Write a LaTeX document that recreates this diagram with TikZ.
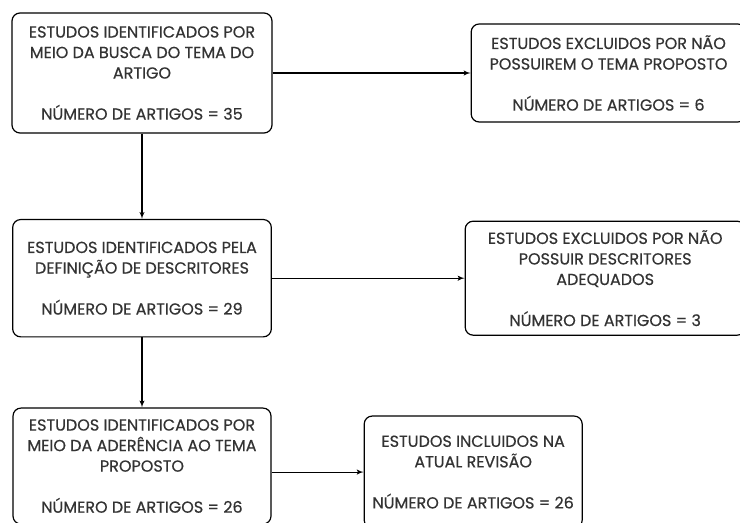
\documentclass[tikz,border=0pt]{standalone}
\usepackage{fontspec}
\newfontfamily\caixafont{Poppins}[BoldFont=Poppins, BoldFeatures={FakeBold=0.5}]
\usetikzlibrary{shapes.geometric,arrows, positioning}
\tikzstyle{caixa} = [rectangle, draw, rounded corners=6pt, line width=0.9pt,
                  text=black!80, font=\caixafont\bfseries\fontsize{12pt}{15.4pt}\selectfont, align=center]
\tikzstyle{seta} = [draw, line width=0.8pt, -latex']

\begin{document}
\begin{tikzpicture}
        [x=0.75pt, y=-0.75pt]
        \useasboundingbox (0,0) rectangle (740,523);
        \node [caixa, minimum width=195pt, minimum height=90pt] (busca) at (142,73)
            {ESTUDOS IDENTIFICADOS POR\\MEIO DA BUSCA DO TEMA DO\\ARTIGO\\[15.4pt]NÚMERO DE ARTIGOS = 35};
        \node [caixa, minimum width=206pt, minimum height=73.5pt, right= 148.5pt of busca] (semtema)
            {ESTUDOS EXCLUIDOS POR NÃO\\POSSUIREM O TEMA PROPOSTO\\[15.4pt]NÚMERO DE ARTIGOS = 6};
        \node [caixa, minimum width=194pt, minimum height=88pt, below= 64pt of busca] (descritores)
            {ESTUDOS IDENTIFICADOS PELA\\DEFINIÇÃO DE DESCRITORES\\[15.4pt]NÚMERO DE ARTIGOS = 29};
        \node [caixa, minimum width=210pt, minimum height=85.5pt, right= 144.5pt of descritores] (semdesc)
            {ESTUDOS EXCLUIDOS POR NÃO\\POSSUIR DESCRITORES\\ADEQUADOS\\[15.4pt]NÚMERO DE ARTIGOS = 3};
        \node [caixa, minimum width=193.5pt, minimum height=87pt, below= 52.5pt of descritores] (aderencia)
            {ESTUDOS IDENTIFICADOS POR\\MEIO DA ADERÊNCIA AO TEMA\\PROPOSTO\\[15.4pt]NÚMERO DE ARTIGOS = 26};
        \node [caixa, minimum width=163.5pt, minimum height=84pt, right= 69pt of aderencia, yshift=-4.5pt] (incluidos)
            {ESTUDOS INCLUIDOS NA\\ATUAL REVISÃO\\[15.4pt]NÚMERO DE ARTIGOS = 26};

        \draw [seta] (busca) -- (semtema);
        \draw [seta] (busca) -- (descritores);
        \draw [seta] (descritores) -- (semdesc);
        \draw [seta] (descritores) -- (aderencia);
        \draw [seta] (incluidos.west -| aderencia.east) -- (incluidos);

    \end{tikzpicture}
\end{document}
